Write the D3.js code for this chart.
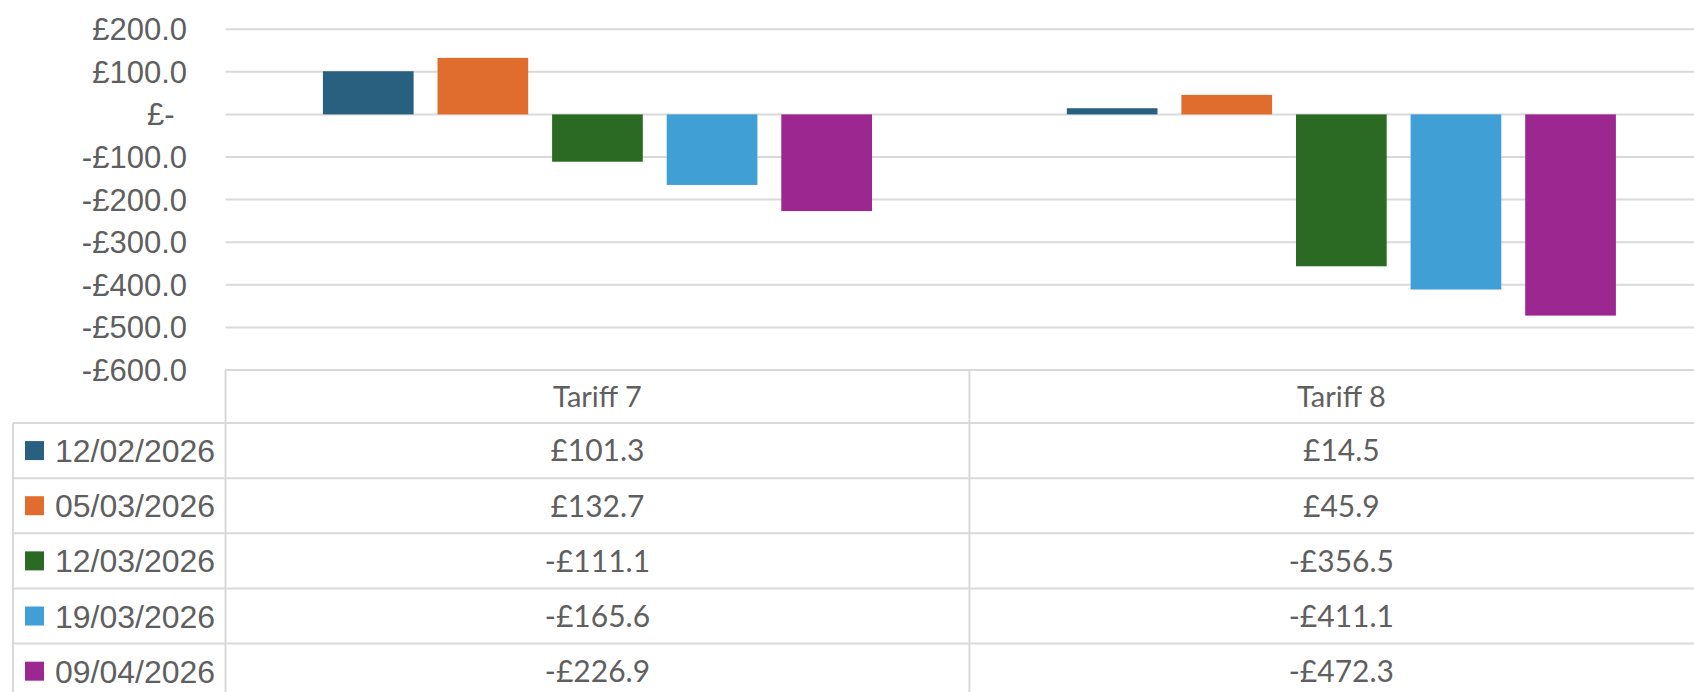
<!DOCTYPE html>
<html>
<head>
<meta charset="utf-8">
<script src="https://cdn.jsdelivr.net/npm/d3@7"></script>
<style>
  body { margin: 0; background: #fff; }
  svg { display: block; }
</style>
</head>
<body>
<div id="chart"></div>
<script>
const categories = ['Tariff 7', 'Tariff 8'];
const seriesNames = ['12/02/2026', '05/03/2026', '12/03/2026', '19/03/2026', '09/04/2026'];
const seriesColors = ['#29607f', '#e06c2d', '#2a6a22', '#40a0d6', '#9c2790'];
const tariff7Values = [101.3, 132.7, -111.1, -165.6, -226.9];
const tariff8Values = [14.5, 45.9, -356.5, -411.1, -472.3];
const yTicks = [200, 100, 0, -100, -200, -300, -400, -500, -600];

const options = {
  width: 1694,
  height: 692,
};

const layout = {
  plotLeft: 225.5,
  plotTop: 29.2,
  plotBottom: 370,
  catWidth: 743.9,
  headerBottom: 423,
  rowHeight: 55.15,
  tableLeft: 13,
  labelRight: 187,
};

const grey = '#d9d9d9';
const textColor = '#5f5f5f';

// one row per series, value per category
const rows = seriesNames.map((name, i) => ({
  name,
  color: seriesColors[i],
  values: [tariff7Values[i], tariff8Values[i]],
}));

const fmtMoney = v => (v < 0 ? '-' : '') + '£' + Math.abs(v).toFixed(1);

const svg = d3.select('#chart')
  .append('svg')
  .attr('width', options.width)
  .attr('height', options.height);

const x0 = d3.scaleBand()
  .domain(categories)
  .range([layout.plotLeft, layout.plotLeft + categories.length * layout.catWidth])
  .padding(0);

const x1 = d3.scaleBand()
  .domain(seriesNames)
  .range([0, x0.bandwidth()])
  .paddingInner(0.2086)
  .paddingOuter(0.85);

const y = d3.scaleLinear()
  .domain([-600, 200])
  .range([layout.plotBottom, layout.plotTop]);

const plotRight = x0.range()[1];

// gridlines
svg.append('g')
  .selectAll('line')
  .data(yTicks)
  .enter()
  .append('line')
  .attr('x1', layout.plotLeft)
  .attr('x2', plotRight)
  .attr('y1', d => y(d))
  .attr('y2', d => y(d))
  .attr('stroke', grey)
  .attr('stroke-width', 2);

// y axis labels
const yAxis = d3.axisLeft(y)
  .tickValues(yTicks)
  .tickSize(0)
  .tickPadding(0)
  .tickFormat(d => d === 0 ? '£-' : fmtMoney(d));

const yAxisG = svg.append('g')
  .attr('transform', `translate(${layout.labelRight},0)`)
  .call(yAxis);

yAxisG.select('.domain').remove();
yAxisG.selectAll('text')
  .attr('fill', textColor)
  .attr('font-family', '"Liberation Sans", Arial, sans-serif')
  .attr('font-size', 31)
  .attr('dy', '0.34em')
  .attr('dx', d => d === 0 ? -12.5 : 0);

// bars
const groups = svg.append('g')
  .selectAll('g')
  .data(categories)
  .enter()
  .append('g')
  .attr('transform', d => `translate(${x0(d)},0)`);

groups.selectAll('rect')
  .data((c, ci) => rows.map(r => ({ name: r.name, color: r.color, value: r.values[ci] })))
  .enter()
  .append('rect')
  .attr('x', d => x1(d.name))
  .attr('width', x1.bandwidth())
  .attr('y', d => y(Math.max(0, d.value)))
  .attr('height', d => Math.abs(y(d.value) - y(0)))
  .attr('fill', d => d.color);

// data table
const table = svg.append('g');
const rowTop = i => layout.headerBottom + i * layout.rowHeight;
const tableBottom = rowTop(rows.length);

// horizontal lines
table.append('line')
  .attr('x1', layout.plotLeft).attr('x2', plotRight)
  .attr('y1', layout.plotBottom).attr('y2', layout.plotBottom)
  .attr('stroke', grey).attr('stroke-width', 2);

table.selectAll('.hline')
  .data(d3.range(rows.length + 1))
  .enter()
  .append('line')
  .attr('class', 'hline')
  .attr('x1', layout.tableLeft).attr('x2', plotRight)
  .attr('y1', i => rowTop(i)).attr('y2', i => rowTop(i))
  .attr('stroke', grey).attr('stroke-width', 2);

// vertical lines
table.append('line')
  .attr('x1', layout.tableLeft).attr('x2', layout.tableLeft)
  .attr('y1', layout.headerBottom).attr('y2', tableBottom)
  .attr('stroke', grey).attr('stroke-width', 2);

table.selectAll('.vline')
  .data(categories.concat(['end']))
  .enter()
  .append('line')
  .attr('class', 'vline')
  .attr('x1', (d, i) => layout.plotLeft + i * x0.step())
  .attr('x2', (d, i) => layout.plotLeft + i * x0.step())
  .attr('y1', layout.plotBottom).attr('y2', tableBottom)
  .attr('stroke', grey).attr('stroke-width', 2);

// header
table.selectAll('.header')
  .data(categories)
  .enter()
  .append('text')
  .attr('class', 'header')
  .attr('x', d => x0(d) + x0.bandwidth() / 2)
  .attr('y', (layout.plotBottom + layout.headerBottom) / 2)
  .attr('dy', '0.36em')
  .attr('text-anchor', 'middle')
  .attr('font-family', 'Lato, sans-serif')
  .attr('font-size', 29)
  .attr('fill', textColor)
  .text(d => d);

// legend column
const legendRows = table.selectAll('.legend')
  .data(rows)
  .enter()
  .append('g')
  .attr('class', 'legend')
  .attr('transform', (d, i) => `translate(0,${rowTop(i) + layout.rowHeight / 2})`);

legendRows.append('rect')
  .attr('x', 25)
  .attr('y', -9.5)
  .attr('width', 19)
  .attr('height', 19)
  .attr('fill', d => d.color);

legendRows.append('text')
  .attr('x', 55)
  .attr('dy', '0.36em')
  .attr('font-family', '"Liberation Sans", Arial, sans-serif')
  .attr('font-size', 32)
  .attr('fill', textColor)
  .text(d => d.name);

// value cells
rows.forEach((r, i) => {
  table.selectAll(`.cell-${i}`)
    .data(categories)
    .enter()
    .append('text')
    .attr('x', d => x0(d) + x0.bandwidth() / 2)
    .attr('y', rowTop(i) + layout.rowHeight / 2)
    .attr('dy', '0.36em')
    .attr('text-anchor', 'middle')
    .attr('font-family', 'Lato, sans-serif')
    .attr('font-size', 30)
    .attr('fill', textColor)
    .text((c, ci) => fmtMoney(r.values[ci]));
});
</script>
</body>
</html>
